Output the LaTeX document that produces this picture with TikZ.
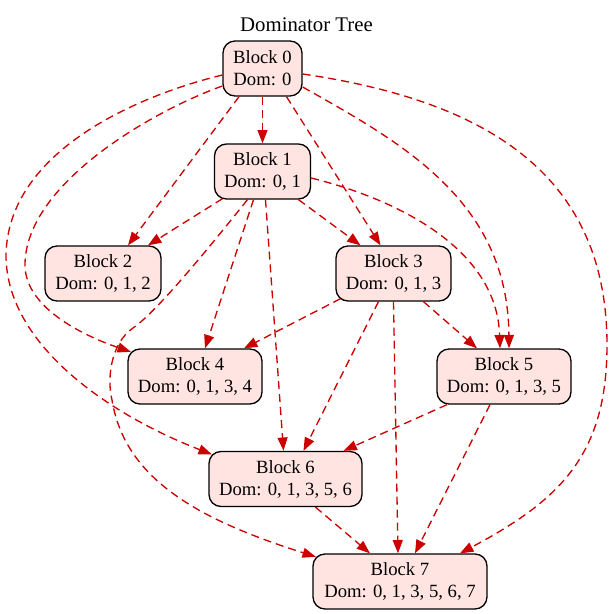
\documentclass[tikz,border=0pt]{standalone}
\usepackage{fontspec}
\setmainfont{Liberation Serif}
\usetikzlibrary{arrows.meta,calc}
\definecolor{nodefill}{HTML}{FFE4E1}
\definecolor{edgered}{HTML}{CC0000}
\begin{document}
\begin{tikzpicture}[x=0.75pt,y=-0.75pt,
  blk/.style={draw=black, line width=1pt, fill=nodefill, rounded corners=9pt,
    minimum height=41.25pt, inner sep=0pt, align=center,
    font=\fontsize{14}{16.5}\selectfont},
  dom/.style={draw=edgered, line width=1pt, dash pattern=on 6pt off 3.75pt,
    -{Triangle[length=10pt,width=7.5pt]}},
  ttl/.style={font=\fontsize{15.6}{18}\selectfont, anchor=base, inner sep=0pt}]
\useasboundingbox (0,0) rectangle (613,614);
\node[ttl] (title) at (306.5,31.5) {Dominator Tree};
\node[blk, minimum width=59.25pt] (b0) at (262.5,68.5) {Block 0\\Dom: 0};
\node[blk, minimum width=72pt] (b1) at (262.5,171.5) {Block 1\\Dom: 0, 1};
\node[blk, minimum width=87pt] (b2) at (103,273.5) {Block 2\\Dom: 0, 1, 2};
\node[blk, minimum width=86.25pt] (b3) at (393.5,273.5) {Block 3\\Dom: 0, 1, 3};
\node[blk, minimum width=100.5pt] (b4) at (195,376.5) {Block 4\\Dom: 0, 1, 3, 4};
\node[blk, minimum width=100.5pt] (b5) at (504,376.5) {Block 5\\Dom: 0, 1, 3, 5};
\node[blk, minimum width=114.75pt] (b6) at (285.5,479) {Block 6\\Dom: 0, 1, 3, 5, 6};
\node[blk, minimum width=130.5pt] (b7) at (400,581.5) {Block 7\\Dom: 0, 1, 3, 5, 6, 7};
% from Block 0
\draw[dom] (b0) -- (b1);
\draw[dom] ($(b0.south)+(-23.5,0)$) -- ($(b2.north)+(25,0)$);
\draw[dom] ($(b0.south)+(24,0)$) -- ($(b3.north)+(-13,0)$);
\draw[dom] ($(b0.west)+(0,17.5)$) .. controls (150,112) and (25,185) .. (25,265)
  .. controls (25,310) and (90,338) .. ($(b4.north west)+(3.5,3.5)$);
\draw[dom] ($(b0.east)+(0,18.5)$) .. controls (400,142) and (508,200) .. ($(b5.north)+(5,0)$);
\draw[dom] ($(b0.west)+(0,6.5)$) .. controls (140,95) and (8,150) .. (6,255)
  .. controls (6,345) and (110,415) .. ($(b6.north west)+(3.5,3.5)$);
\draw[dom] ($(b0.east)+(0,5.5)$) .. controls (480,100) and (607,170) .. (607,345)
  .. controls (607,455) and (560,500) .. ($(b7.north)+(60,0)$);
% from Block 1
\draw[dom] ($(b1.south)+(-40,-1)$) -- ($(b2.north)+(45,0)$);
\draw[dom] ($(b1.south)+(36,0)$) -- ($(b3.north)+(-33,0)$);
\draw[dom] ($(b1.south)+(-9,0)$) -- ($(b4.north)+(10,0)$);
\draw[dom] ($(b1.south)+(3,0)$) -- ($(b6.north)+(-2,0)$);
\draw[dom] ($(b1.east)+(0,6.5)$) .. controls (400,200) and (497,250) .. ($(b5.north)+(-4,0)$);
\draw[dom] ($(b1.south)+(-15,0)$) .. controls (215,240) and (158,311) .. (133,328)
  .. controls (110,344) and (107,380) .. (112,400)
  .. controls (125,480) and (200,520) .. ($(b7.north west)+(3.5,3.5)$);
% from Block 3
\draw[dom] ($(b3.south)+(-53,-3)$) -- ($(b4.north)+(49,0)$);
\draw[dom] ($(b3.south)+(-15,0)$) -- ($(b6.north)+(18,0)$);
\draw[dom] (b3.south) -- ($(b7.north)+(-2,0)$);
\draw[dom] ($(b3.south)+(30,0)$) -- ($(b5.north)+(-27,0)$);
% from Block 5
\draw[dom] ($(b5.south)+(-57,0)$) -- ($(b6.north)+(58,0)$);
\draw[dom] ($(b5.south)+(-14,0)$) -- ($(b7.north)+(15,0)$);
% from Block 6
\draw[dom] ($(b6.south)+(30,0)$) -- ($(b7.north)+(-30,0)$);
\end{tikzpicture}
\end{document}
